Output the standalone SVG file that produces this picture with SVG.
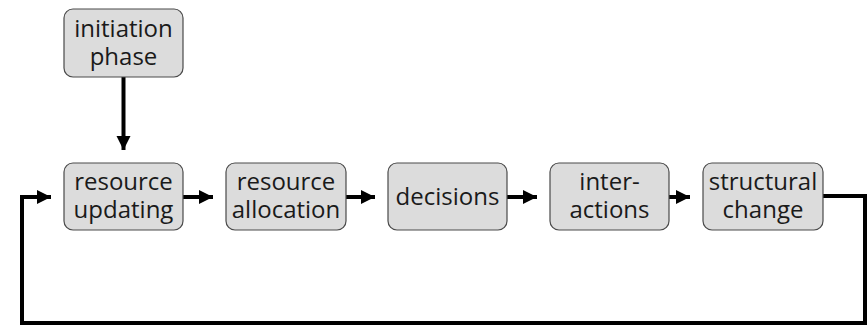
<svg xmlns="http://www.w3.org/2000/svg" width="868" height="325" viewBox="0 0 868 325">
<style>
.box{fill:#dcdcdc;stroke:#4a4a4a;stroke-width:1.2}
.t{font-family:"Open Sans","Noto Sans","DejaVu Sans",sans-serif;font-size:24px;fill:#1a1a1a;text-anchor:middle}
.c{fill:none;stroke:#000;stroke-width:4;stroke-linejoin:miter}
</style>
<defs>
<marker id="ah" markerUnits="userSpaceOnUse" markerWidth="15" markerHeight="15" viewBox="0 0 15 15" refX="14" refY="7.5" orient="auto">
<path d="M0,0.5 L14,7.5 L0,14.5 Z" fill="#000"/>
</marker>
</defs>
<rect width="868" height="325" fill="#fff"/>
<g id="connectors">
<path class="c" d="M123.5,77 V150" marker-end="url(#ah)"/>
<path class="c" d="M183,197 H213" marker-end="url(#ah)"/>
<path class="c" d="M346,197 H375" marker-end="url(#ah)"/>
<path class="c" d="M507,197 H537" marker-end="url(#ah)"/>
<path class="c" d="M669,197 H690" marker-end="url(#ah)"/>
<path class="c" d="M823,196 H865 V323 H22 V197 H51" marker-end="url(#ah)"/>
</g>
<g id="initiation">
<rect class="box" x="64" y="9" width="119" height="68" rx="9"/>
<text class="t" x="123.5" y="37">initiation</text>
<text class="t" x="123.5" y="65">phase</text>
</g>
<g id="updating">
<rect class="box" x="64" y="163" width="119" height="67" rx="9"/>
<text class="t" x="123.5" y="190">resource</text>
<text class="t" x="123.5" y="218">updating</text>
</g>
<g id="allocation">
<rect class="box" x="226" y="163" width="120" height="67" rx="9"/>
<text class="t" x="286" y="190">resource</text>
<text class="t" x="286" y="218">allocation</text>
</g>
<g id="decisions">
<rect class="box" x="388" y="163" width="119" height="67" rx="9"/>
<text class="t" x="447.5" y="205">decisions</text>
</g>
<g id="interactions">
<rect class="box" x="550" y="163" width="119" height="67" rx="9"/>
<text class="t" x="609.5" y="190">inter-</text>
<text class="t" x="609.5" y="218">actions</text>
</g>
<g id="structural">
<rect class="box" x="703" y="163" width="120" height="67" rx="9"/>
<text class="t" x="763" y="190">structural</text>
<text class="t" x="763" y="218">change</text>
</g>
</svg>
